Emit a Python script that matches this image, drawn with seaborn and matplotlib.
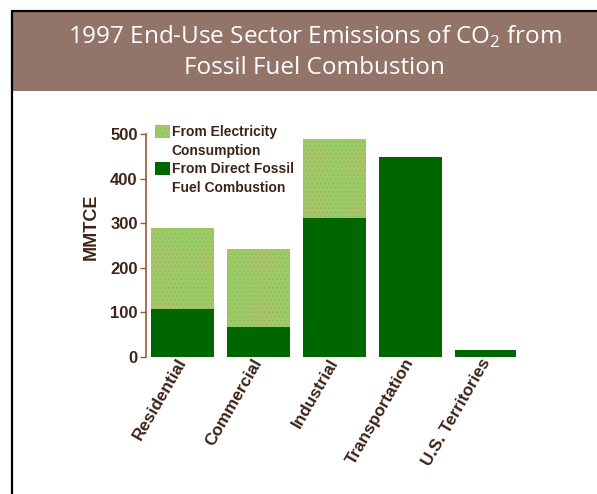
import matplotlib
matplotlib.use("Agg")
import matplotlib.pyplot as plt
import seaborn as sns
import pandas as pd
from matplotlib.patches import Rectangle, Patch
from matplotlib.lines import Line2D

sectors = ["Residential", "Commercial", "Industrial", "Transportation", "U.S. Territories"]
direct = [106, 66, 311, 448, 15]
electricity = [184, 175, 177, 0, 0]
yticks = [0, 100, 200, 300, 400, 500]
title_line1 = "1997 End-Use Sector Emissions of CO$_\\mathrm{2}$ from"
title_line2 = "Fossil Fuel Combustion"
ylabel = "MMTCE"
legend_lines = ["From Electricity", "Consumption", "From Direct Fossil", "Fuel Combustion"]

sns.set_style("white")
plt.rcParams["font.family"] = ["Liberation Sans", "DejaVu Sans"]
plt.rcParams["mathtext.fontset"] = "custom"
plt.rcParams["mathtext.rm"] = "Open Sans"
plt.rcParams["hatch.linewidth"] = 0.5

df = pd.DataFrame({"sector": sectors, "direct": direct,
                   "total": [d + e for d, e in zip(direct, electricity)]})

W, H = 597, 494
fig = plt.figure(figsize=(W / 100, H / 100), dpi=100)
fig.patch.set_facecolor("white")

# title band and frame
fig.patches.append(Rectangle((13 / W, 1 - 91 / H), 1 - 13 / W, 80 / H,
                             transform=fig.transFigure, facecolor="#937468",
                             edgecolor="none", zorder=0))
fig.lines.append(Line2D([12 / W, 1], [1 - 11 / H, 1 - 11 / H], transform=fig.transFigure,
                        color="black", lw=1.6))
fig.lines.append(Line2D([12 / W, 12 / W], [0, 1 - 11 / H], transform=fig.transFigure,
                        color="black", lw=1.6))
fig.text(0.527, 1 - 44 / H, title_line1, ha="center", va="baseline", color="white",
         fontsize=17.5, family="Open Sans")
fig.text(0.527, 1 - 74 / H, title_line2, ha="center", va="baseline", color="white",
         fontsize=17.5, family="Open Sans")

ax = fig.add_axes([146 / W, (H - 356.7) / H, (515.5 - 146) / W, 222.7 / H])
light = "#99cc66"
dark = "#006600"
dotc = "#b9a35e"
sns.barplot(data=df, x="sector", y="total", color=light, saturation=1, width=0.82,
            ax=ax, edgecolor=dotc, linewidth=0, hatch="....")
sns.barplot(data=df, x="sector", y="direct", color=dark, saturation=1, width=0.82,
            ax=ax, edgecolor="none", linewidth=0)

txtc = "#3d2418"
ax.set_xlim(-0.48, 4.38)
ax.set_ylim(0, 500)
ax.set_yticks(yticks)
ax.set_yticklabels([str(v) for v in yticks], fontsize=12, fontweight="bold", color=txtc)
ax.set_xticks(range(len(sectors)))
ax.set_xticklabels(sectors, rotation=60, ha="right", va="center", rotation_mode="anchor",
                   fontsize=12.3, fontweight="bold", color=txtc)
ax.set_xlabel("")
ax.set_ylabel(ylabel, fontsize=13, fontweight="bold", color=txtc)
ax.yaxis.set_label_coords(-0.125, 0.585)
for s in ["top", "right", "bottom"]:
    ax.spines[s].set_visible(False)
ax.spines["left"].set_color("#9a5a35")
ax.spines["left"].set_linewidth(1.2)
ax.tick_params(axis="y", left=True, length=4, width=1, color="#9a5a35", pad=2)
ax.tick_params(axis="x", bottom=False, length=0, pad=2)

blank = Patch(facecolor="none", edgecolor="none")
handles = [Patch(facecolor=light, edgecolor=dotc, linewidth=0, hatch="...."), blank,
           Patch(facecolor=dark, edgecolor="none"), blank]
leg = ax.legend(handles, legend_lines, loc="upper left",
                bbox_to_anchor=(155 / W, 1 - 125 / H), bbox_transform=fig.transFigure,
                frameon=False, handlelength=1.08, handleheight=1.08, handletextpad=0.12,
                labelspacing=0.3, borderpad=0, borderaxespad=0,
                prop={"weight": "bold", "size": 10})
for t in leg.get_texts():
    t.set_color(txtc)

fig.savefig("out.png", dpi=100)
